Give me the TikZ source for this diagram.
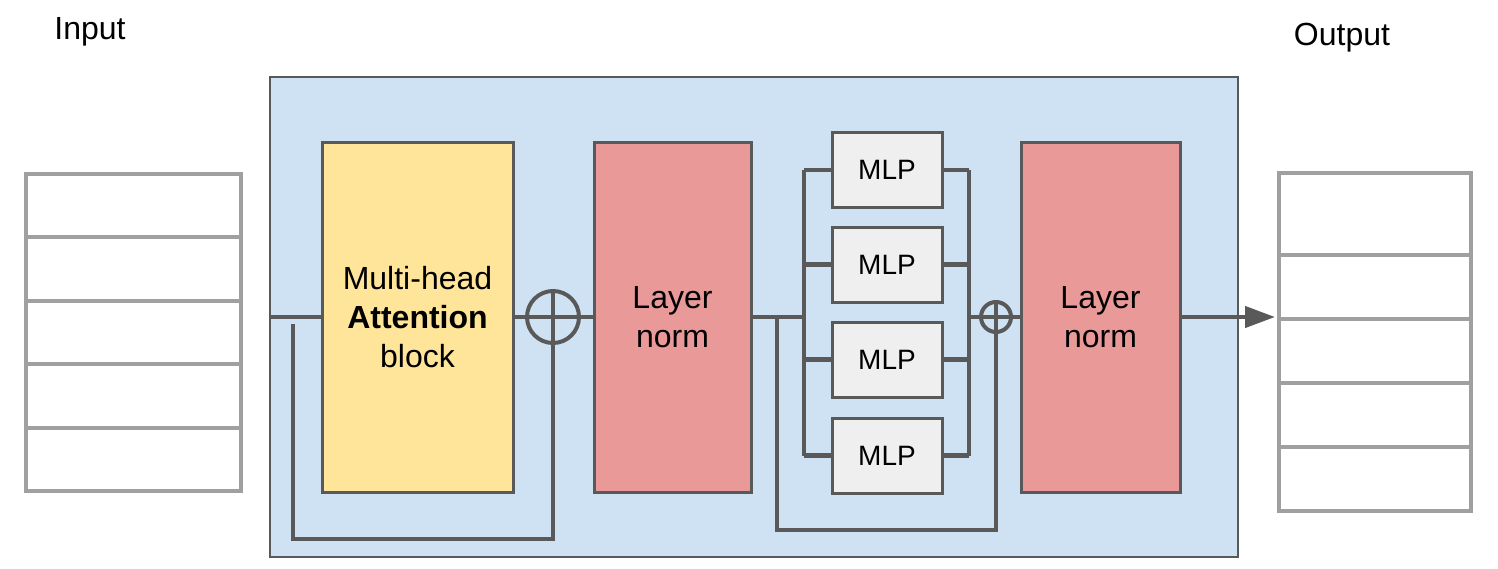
\documentclass[tikz,border=0pt]{standalone}
\usepackage{fontspec}
\setmainfont{Liberation Sans}
\usetikzlibrary{arrows.meta}

\definecolor{encblue}{HTML}{CFE2F3}
\definecolor{attnyellow}{HTML}{FFE599}
\definecolor{normred}{HTML}{EA9999}
\definecolor{mlpgray}{HTML}{EFEFEF}
\definecolor{linegray}{HTML}{595959}
\definecolor{stackgray}{HTML}{A0A0A0}

\begin{document}
\begin{tikzpicture}[x=0.5pt, y=-0.5pt,
    wire/.style={draw=linegray, line width=2.2pt},
    block/.style={draw=linegray, line width=1.5pt, inner sep=0pt, outer sep=0pt,
      minimum height=175pt, align=center, font=\fontsize{16}{19.5}\selectfont},
    mlp/.style={block, fill=mlpgray, minimum width=55pt, minimum height=37.5pt,
      font=\fontsize{14}{17}\selectfont},
    cell/.style={draw=stackgray, line width=2pt, inner sep=0pt, outer sep=0pt},
    plus/.style={circle, draw=linegray, line width=2pt, inner sep=0pt, outer sep=0pt},
    label/.style={font=\fontsize{16}{19}\selectfont}]
  \useasboundingbox (0,0) rectangle (1498,568);

  %===== Input and output stacks =====%
  \node[label] (inlabel) at (90,32) {Input};
  \node[label] (outlabel) at (1342,38) {Output};
  \foreach \i in {1,...,5}
    \node[cell, minimum width=107.5pt, minimum height=31.7pt]
      (in\i) at (133.5,{205.7+63.4*(\i-1)}) {};
  \node[cell, minimum width=96pt, minimum height=41pt] (out1) at (1375,214) {};
  \foreach \i/\y in {2/287, 3/351, 4/415, 5/479}
    \node[cell, minimum width=96pt, minimum height=32pt] (out\i) at (1375,\y) {};

  %===== Encoder layer =====%
  \node[fill=encblue, draw=linegray, line width=0.6pt, inner sep=0pt,
    minimum width=484pt, minimum height=240pt] (enc) at (754,317) {};

  \node[block, fill=attnyellow, minimum width=95.5pt] (attn) at (417.5,317)
    {Multi-head\\\textbf{Attention}\\block};
  \node[block, fill=normred, minimum width=78.5pt] (norm1) at (672.5,317) {Layer\\norm};
  \node[block, fill=normred, minimum width=79.5pt] (norm2) at (1100.5,317) {Layer\\norm};

  \node[plus, minimum size=26pt] (add1) at (553,317) {};
  \node[plus, minimum size=15pt] (add2) at (996,317) {};

  % parallel MLPs
  \foreach \i/\y in {1/170, 2/264.5, 3/359.5, 4/455.5}
    \node[mlp] (mlp\i) at (887,\y) {MLP};

  \coordinate (res1a) at (293,324);
  \coordinate (res1b) at (293,539);
  \coordinate (res2a) at (777,317);
  \coordinate (res2b) at (777,530);
  \coordinate (busl) at (804,317);
  \coordinate (busr) at (969,317);

  %===== Wires =====%
  \draw[wire] (enc.west |- attn.west) -- (attn.west);
  \draw[wire] (attn.east) -- (norm1.west);
  \draw[wire] (add1.west) -- (add1.east);
  \draw[wire] (res1a) -- (res1b) -| (add1.north);

  \draw[wire] (norm1.east) -- (busl);
  \draw[wire] (res2a) -- (res2b) -| (add2.north);
  \draw[wire] (busl |- mlp1.west) -- (busl |- mlp4.west);
  \draw[wire] (busr |- mlp1.east) -- (busr |- mlp4.east);
  \foreach \i in {1,...,4} {
    \draw[wire] (busl |- mlp\i.west) -- (mlp\i.west);
    \draw[wire] (mlp\i.east) -- (busr |- mlp\i.east);
  }
  \draw[wire] (busr) -- (norm2.west);

  % to the output
  \draw[wire, -{Triangle[length=15pt, width=10.5pt]}]
    (norm2.east) -- ([xshift=-2pt,yshift=1pt]out2.south west);
\end{tikzpicture}
\end{document}
